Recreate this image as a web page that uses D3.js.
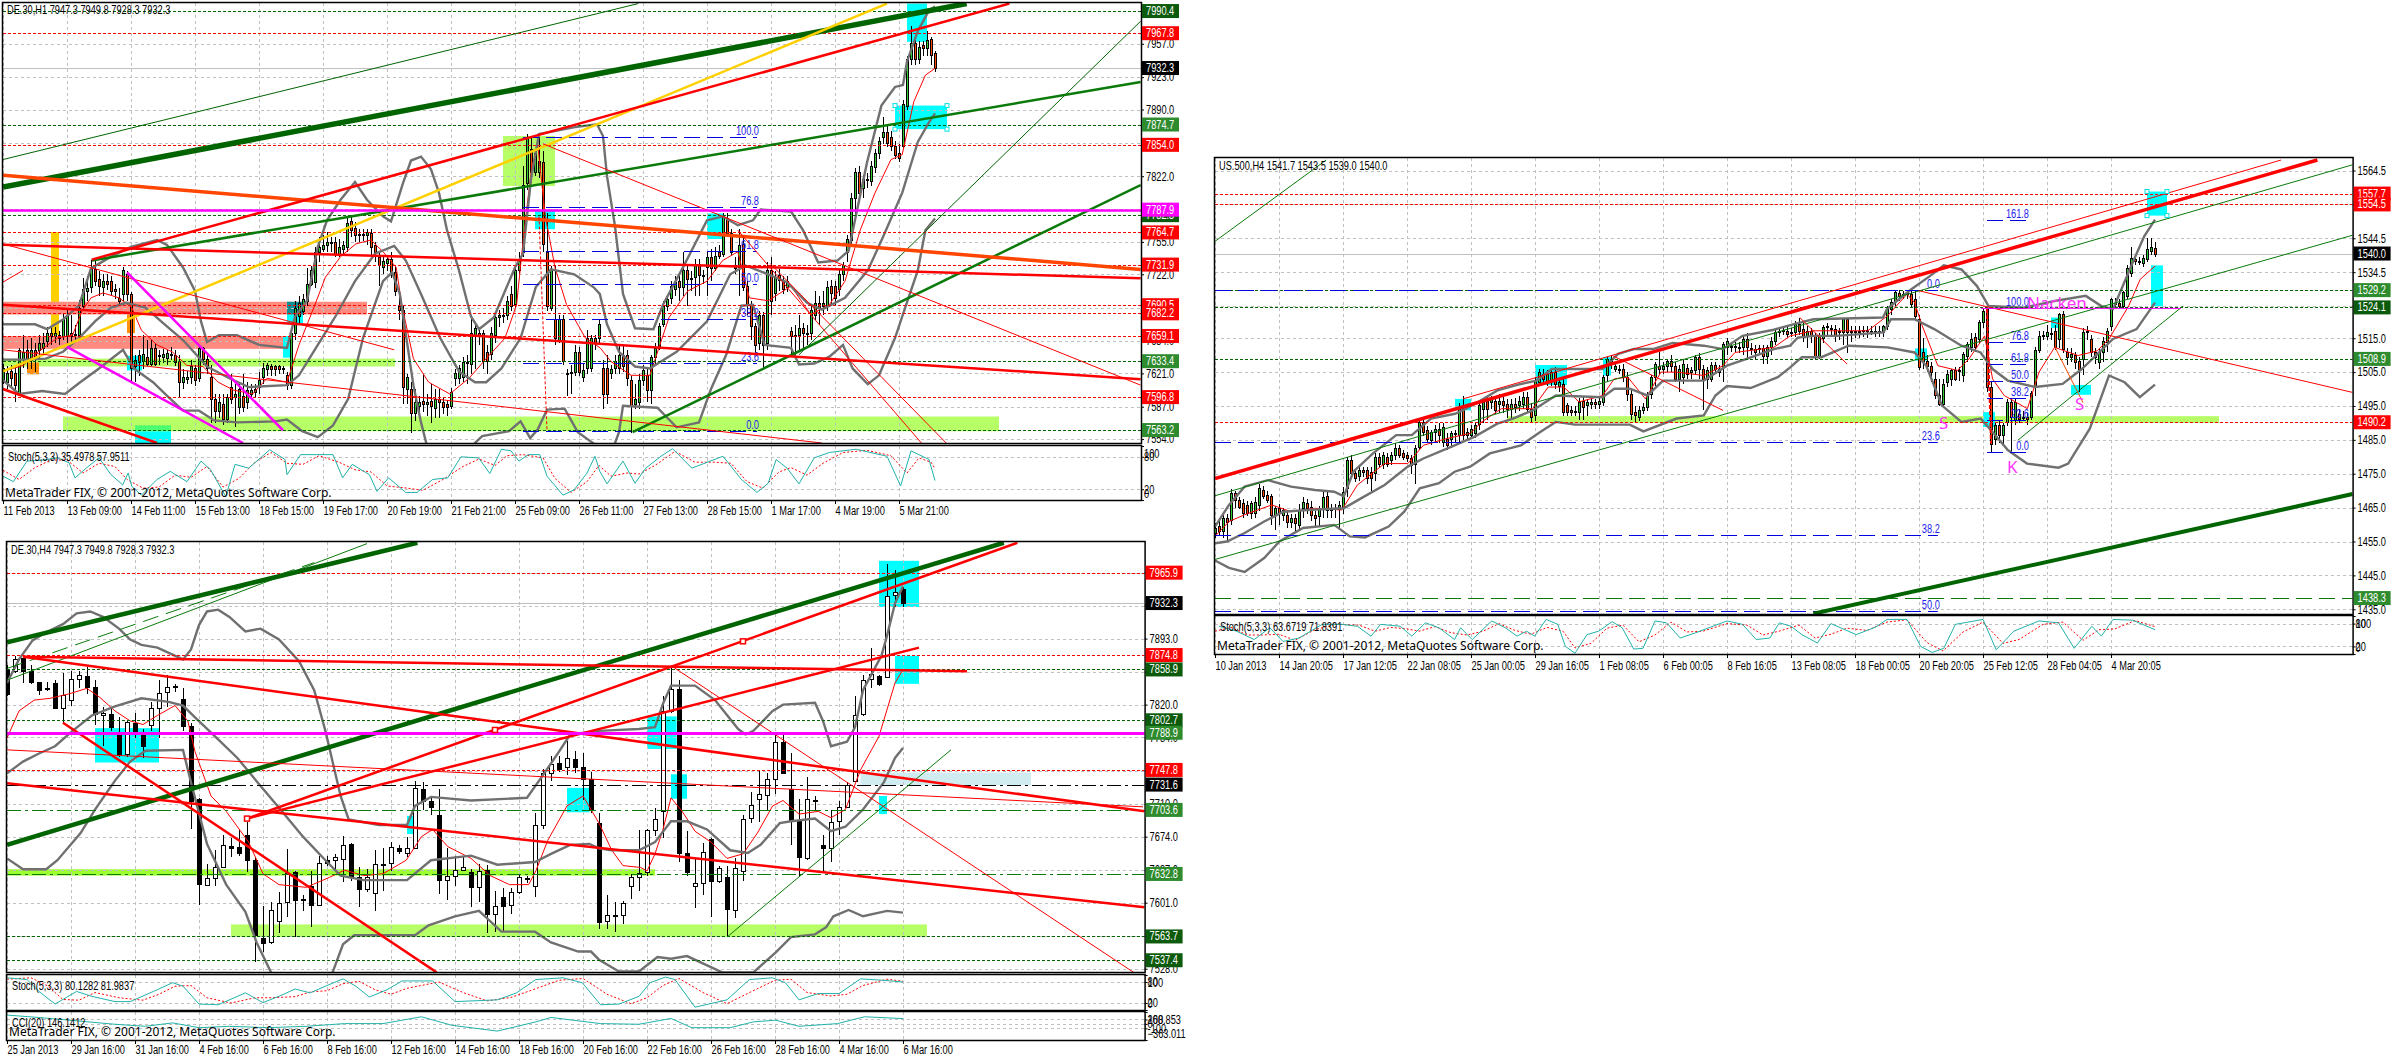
<!DOCTYPE html>
<html>

<head>
    <meta charset="utf-8">
    <style type="text/css">
        html, body { margin: 0; padding: 0; background: #fff; }
        svg { display: block; }
        text { font-family: "Liberation Sans", sans-serif; font-size: 12px; fill: #000; }
        .tick text { font-family: "Liberation Sans", sans-serif; font-size: 12px; }
    </style>
</head>

<body>
    <div id="canvas"></div>

    <script type="text/javascript" src="https://cdnjs.cloudflare.com/ajax/libs/d3/7.8.5/d3.min.js"></script>
    <script type="text/javascript">
        // ---- DE.30 H1 ----
        var titleH1 = "DE.30,H1  7947.3 7949.8 7928.3 7932.3";
        var stochTitleH1 = "Stoch(5,3,3) 35.4978 57.9511";
        var timeLabelsH1 = ["11 Feb 2013", "13 Feb 09:00", "14 Feb 11:00", "15 Feb 13:00", "18 Feb 15:00", "19 Feb 17:00", "20 Feb 19:00", "21 Feb 21:00", "25 Feb 09:00", "26 Feb 11:00", "27 Feb 13:00", "28 Feb 15:00", "1 Mar 17:00", "4 Mar 19:00", "5 Mar 21:00"];
        var ticksH1 = [7957, 7923, 7890, 7856, 7822, 7789, 7755, 7722, 7688, 7654, 7621, 7587, 7554];
        var candlesH1 = [
            [7612,7631,7610,7626],[7612,7628,7605,7621],[7623,7630,7608,7616],[7621,7628,7592,7609],[7600,7647,7598,7645],[7636,7660,7626,7643],[7645,7655,7625,7636],[7635,7657,7625,7645],[7645,7652,7622,7636],[7645,7660,7636,7652],
            [7647,7662,7640,7652],[7654,7668,7648,7662],[7662,7668,7650,7659],[7659,7668,7652,7662],[7660,7664,7650,7657],[7659,7682,7655,7676],[7659,7688,7652,7681],[7662,7680,7652,7659],[7660,7670,7655,7661],[7660,7696,7655,7688],
            [7690,7718,7685,7707],[7705,7720,7695,7708],[7709,7737,7703,7727],[7727,7736,7710,7715],[7717,7725,7700,7710],[7709,7722,7700,7715],[7715,7722,7706,7712],[7715,7720,7700,7705],[7707,7712,7697,7705],[7698,7708,7690,7695],
            [7702,7729,7695,7726],[7722,7725,7695,7702],[7702,7704,7612,7626],[7628,7640,7612,7635],[7640,7645,7618,7633],[7634,7660,7625,7641],[7638,7655,7628,7631],[7631,7655,7628,7647],[7647,7652,7628,7631],[7640,7645,7630,7640],
            [7638,7646,7632,7641],[7637,7645,7630,7642],[7641,7648,7635,7640],[7640,7645,7628,7633],[7634,7640,7597,7612],[7612,7625,7605,7617],[7615,7623,7610,7617],[7617,7635,7610,7628],[7626,7630,7608,7614],[7616,7650,7612,7647],
            [7647,7648,7630,7636],[7636,7642,7620,7626],[7617,7630,7570,7595],[7595,7600,7570,7583],[7583,7600,7575,7592],[7590,7600,7568,7574],[7574,7600,7570,7597],[7607,7620,7590,7595],[7597,7610,7566,7600],[7587,7612,7580,7605],
            [7598,7620,7582,7587],[7592,7612,7585,7604],[7600,7610,7597,7604],[7602,7610,7597,7605],[7607,7622,7600,7614],[7617,7632,7610,7626],[7625,7632,7618,7630],[7629,7631,7618,7625],[7628,7630,7618,7625],[7628,7630,7620,7625],
            [7626,7628,7620,7625],[7619,7622,7604,7609],[7609,7665,7605,7662],[7662,7695,7655,7688],[7679,7700,7672,7693],[7685,7702,7680,7697],[7695,7728,7690,7712],[7712,7730,7710,7726],[7714,7750,7708,7745],[7745,7760,7735,7750],
            [7748,7762,7745,7752],[7752,7765,7745,7755],[7755,7760,7745,7755],[7755,7760,7740,7743],[7743,7758,7740,7750],[7748,7756,7742,7752],[7750,7780,7745,7774],[7776,7782,7760,7767],[7769,7775,7755,7762],[7763,7768,7755,7762],
            [7763,7768,7756,7763],[7762,7768,7752,7765],[7764,7768,7742,7750],[7752,7755,7735,7745],[7740,7745,7710,7731],[7729,7740,7722,7736],[7734,7742,7725,7738],[7738,7745,7718,7724],[7724,7730,7700,7705],[7690,7700,7675,7686],
            [7686,7690,7590,7607],[7605,7620,7590,7617],[7605,7612,7560,7581],[7581,7605,7572,7592],[7588,7598,7575,7592],[7593,7620,7582,7590],[7590,7600,7578,7592],[7593,7610,7570,7588],[7586,7605,7575,7595],[7595,7605,7575,7592],
            [7592,7597,7580,7587],[7590,7594,7578,7587],[7588,7606,7585,7602],[7616,7625,7608,7621],[7616,7630,7610,7626],[7617,7638,7612,7633],[7632,7640,7610,7633],[7631,7680,7620,7662],[7659,7672,7625,7667],[7662,7668,7650,7659],
            [7662,7665,7625,7634],[7643,7650,7620,7634],[7641,7668,7635,7662],[7660,7682,7652,7678],[7678,7686,7668,7681],[7680,7688,7672,7680],[7680,7700,7675,7695],[7702,7710,7685,7690],[7692,7730,7688,7726],[7726,7745,7722,7736],
            [7745,7832,7740,7813],[7815,7865,7808,7862],[7850,7863,7815,7826],[7826,7850,7822,7846],[7826,7862,7820,7838],[7836,7848,7745,7753],[7745,7785,7685,7690],[7688,7730,7685,7726],[7676,7730,7650,7657],[7655,7680,7652,7676],
            [7676,7680,7630,7634],[7621,7625,7598,7620],[7622,7630,7600,7622],[7622,7650,7618,7643],[7643,7648,7618,7622],[7617,7632,7612,7624],[7626,7665,7620,7657],[7626,7660,7622,7657],[7657,7660,7645,7652],[7657,7676,7652,7671],
            [7626,7635,7585,7600],[7626,7640,7590,7600],[7621,7630,7615,7625],[7626,7640,7620,7634],[7626,7650,7620,7640],[7640,7650,7622,7628],[7640,7645,7608,7616],[7614,7618,7560,7588],[7590,7610,7585,7595],[7592,7620,7585,7614],
            [7614,7630,7608,7624],[7619,7625,7592,7604],[7604,7640,7590,7638],[7638,7652,7630,7647],[7647,7672,7645,7669],[7671,7695,7668,7690],[7690,7700,7685,7697],[7698,7715,7692,7710],[7707,7720,7700,7714],[7715,7722,7695,7709],
            [7709,7745,7700,7726],[7726,7730,7690,7717],[7718,7725,7705,7717],[7719,7738,7700,7733],[7733,7738,7700,7721],[7720,7726,7712,7721],[7729,7746,7700,7740],[7740,7748,7715,7728],[7728,7750,7725,7741],[7745,7752,7738,7741],
            [7743,7785,7740,7781],[7779,7785,7760,7764],[7764,7768,7742,7745],[7731,7740,7722,7728],[7729,7768,7700,7752],[7753,7760,7705,7709],[7710,7715,7680,7691],[7691,7695,7655,7669],[7669,7672,7640,7650],[7652,7685,7645,7681],
            [7681,7684,7625,7650],[7652,7735,7645,7726],[7726,7740,7680,7695],[7703,7725,7695,7719],[7721,7727,7705,7716],[7715,7720,7702,7707],[7709,7720,7704,7715],[7664,7668,7640,7659],[7660,7670,7640,7660],[7660,7680,7645,7667],
            [7667,7672,7645,7662],[7662,7670,7650,7662],[7662,7690,7655,7686],[7680,7705,7675,7693],[7693,7700,7670,7688],[7690,7705,7680,7693],[7690,7715,7685,7709],[7710,7716,7690,7703],[7710,7715,7690,7698],[7707,7726,7700,7722],
            [7722,7735,7715,7731],[7745,7762,7735,7758],[7757,7805,7752,7800],[7800,7830,7780,7826],[7826,7832,7795,7805],[7810,7823,7800,7819],[7818,7825,7810,7819],[7817,7838,7812,7832],[7831,7850,7825,7846],[7846,7862,7840,7858],
            [7862,7882,7855,7867],[7867,7875,7852,7856],[7862,7868,7848,7853],[7853,7858,7840,7844],[7846,7855,7837,7841],[7853,7900,7850,7896],[7894,7945,7890,7941],[7941,7975,7935,7958],[7958,7965,7935,7941],[7941,7960,7936,7954],
            [7956,7960,7945,7953],[7953,7970,7945,7961],[7962,7964,7935,7946],[7947.3,7949.8,7928.3,7932.3]
        ];
        var bbUpperH1 = [[0,7671],[8,7671],[11,7666],[15,7676],[19,7690],[22,7728],[27,7740],[32,7750],[38.5,7757],[41,7752],[45,7729],[48,7705],[49.5,7674],[51,7653],[54,7660],[58.5,7660],[64,7650],[71,7647],[73,7679],[76,7695],[78.7,7750],[81,7777],[84.4,7798],[88,7816],[91,7798],[95,7781],[97,7776],[100,7815],[102,7838],[104.5,7842],[107,7829],[109,7805],[111,7767],[114,7726],[117,7679],[119,7666],[122.7,7678],[125.5,7705],[128,7729],[130,7743],[132,7819],[134,7865],[143,7872],[148.5,7875],[150,7863],[151,7822],[153,7771],[155,7702],[158,7667],[162.6,7666],[165,7691],[170,7729],[176,7777],[180,7781],[183.7,7772],[187.5,7777],[189.4,7788],[197,7786],[200,7767],[203.8,7734],[208.6,7736],[211.4,7746],[216,7836],[219.6,7894],[223,7913],[225,7915],[226,7939],[228.7,7970],[231.5,7991],[233,7995]];
        var bbMidH1 = [[0,7635],[5,7635],[10.7,7636],[15,7643],[19,7657],[23,7674],[27,7688],[30.8,7693],[35.6,7688],[40.4,7671],[45,7655],[51,7628],[56.6,7616],[61.4,7607],[71,7609],[74,7619],[78.7,7650],[83.4,7681],[88,7715],[93,7743],[97.8,7751],[100.7,7736],[104.5,7702],[109.3,7657],[114,7623],[118,7612],[120.8,7612],[124.6,7626],[129.4,7657],[133.2,7709],[137,7727],[142.8,7722],[147.6,7709],[149.2,7702],[151,7671],[154,7643],[158,7628],[161.7,7626],[168.4,7643],[176,7674],[181.8,7722],[185.6,7731],[191.3,7722],[196,7714],[201,7693],[204.7,7686],[210.5,7698],[216.2,7726],[220,7760],[224.8,7805],[228.7,7857],[231.5,7877],[233,7886]];
        var bbLowerH1 = [[0,7614],[4,7600],[9.8,7603],[15.5,7600],[19.3,7612],[24,7626],[30,7645],[32.7,7626],[37.5,7612],[41.3,7597],[45,7583],[49,7583],[52.8,7573],[58.6,7571],[68,7572],[71,7574],[74.8,7562],[78.7,7556],[82.5,7568],[86.3,7595],[90,7657],[95,7715],[97.3,7724],[99.2,7702],[102.6,7609],[104.5,7571],[106,7547],[107.4,7530],[116,7530],[118,7550],[119.8,7557],[126.5,7562],[129.4,7572],[131.8,7555],[133.7,7564],[136,7584],[140.4,7585],[143.7,7561],[148.5,7547],[151,7530],[153,7550],[154,7561],[155,7588],[163.6,7586],[168.4,7566],[174,7571],[177,7605],[180.8,7640],[184.6,7690],[187.5,7691],[190.4,7650],[197,7647],[199,7630],[202.8,7631],[206.6,7638],[210,7650],[212.4,7626],[216.2,7610],[219,7619],[223,7657],[225.8,7691],[228.7,7726],[230.6,7767],[233,7779]];
        var maH1 = [[0,7623],[5,7629],[8.8,7643],[13.6,7657],[17.4,7660],[19.8,7685],[22,7698],[25,7703],[29,7698],[32.2,7688],[34.6,7665],[38.5,7650],[42.3,7643],[46,7629],[50,7628],[53.8,7612],[57.6,7604],[62.4,7600],[66,7616],[71,7612],[74,7650],[77.7,7688],[80.6,7719],[84.4,7740],[88.2,7753],[92,7757],[95,7745],[98.3,7729],[99.7,7691],[102.6,7636],[106.4,7612],[111.7,7600],[116.5,7616],[120.8,7636],[125.5,7657],[128.4,7691],[130.3,7767],[132.2,7832],[133.7,7853],[135.6,7781],[138,7729],[140.9,7691],[145.6,7657],[149.3,7647],[152,7633],[157,7619],[161.7,7619],[166.5,7678],[171.2,7705],[176,7715],[179.9,7736],[183.7,7745],[186.6,7698],[191.3,7695],[197,7710],[201.9,7681],[206.6,7691],[210.5,7715],[214.3,7767],[218,7805],[222,7839],[224.8,7844],[227.7,7898],[230.6,7925],[233,7932]];
        var stochH1 = [[0,44],[2.6,34],[6,72],[9.8,74],[13.6,78],[16.5,69],[18,41],[20.8,59],[24,78],[27,47],[29.9,28],[31.3,50],[32.2,25],[34.6,9],[38.5,38],[41.8,53],[46,34],[49.5,72],[51.9,56],[55.7,6],[58,66],[61.4,59],[66.7,93],[70.5,75],[71,47],[74.4,84],[82.5,84],[84.9,41],[87.3,66],[91.6,47],[93.5,16],[96.4,41],[100.7,14],[103.5,14],[107.4,38],[111.2,41],[114.5,80],[118.9,78],[121.7,49],[124.6,94],[127,91],[129,72],[131.3,84],[134.2,84],[136,44],[140,9],[142.8,19],[146,50],[148,81],[149.2,53],[151,30],[155,72],[158,31],[160.7,59],[164.5,81],[167.4,95],[172.2,59],[180,81],[184.6,38],[188.5,14],[191.3,31],[193.3,75],[196,59],[199,30],[202.8,78],[206.6,88],[213.3,94],[221,81],[224.4,26],[227,91],[231.5,75],[233,36]];
        var signalH1 = [[0,55],[4,38],[8,60],[12,74],[16,74],[20,50],[24,68],[28,62],[31,38],[35,22],[39,24],[43,46],[47,42],[51,62],[55,24],[59,40],[63,70],[67,88],[71,68],[75,66],[79,82],[84,70],[88,56],[92,52],[96,26],[101,22],[105,18],[110,38],[115,62],[119,76],[123,64],[126,82],[130,84],[135,78],[138,40],[142,14],[146,34],[149,64],[152,44],[156,50],[159,48],[163,64],[168,90],[173,70],[178,70],[182,68],[186,34],[190,22],[194,52],[197,60],[201,46],[205,68],[210,88],[216,92],[222,82],[226,50],[229,78],[232,70],[233,58]];
        var redLevelsH1 = [7967.8, 7854.0, 7764.7, 7731.9, 7690.5, 7682.2, 7659.1, 7596.8];
        var darkLevelsH1 = [7990.4, 7782.3];
        var midLevelsH1 = [7874.7, 7633.4, 7563.2];
        var magentaH1 = 7787.9, bidH1 = 7932.3;
        var fibLabelsH1 = ["100.0", "76.8", "61.8", "50.0", "38.2", "23.6", "0.0"];
        var fibPricesH1 = [7862, 7791, 7746, 7712, 7676, 7632, 7562];
        var fibSpanH1 = [130, 188.5];
        var cyanH1 = [[33,42,7562,7550],[31,34.8,7639,7624],[71,75,7681,7672],[70,72,7659,7637],[133,138,7787,7768],[176,180,7784,7758],[226,231,7998,7959],[223,236,7894,7870]];
        var limeH1 = [[0,98,7636,7628],[15,249,7577,7562],[125,138,7863,7812]];
        var pinkH1 = [[0,91,7694,7681],[0,70,7659,7646]];
        var goldH1 = [[12,14,7765,7660]];
        var orangeH1 = [[6,9,7632,7620],[31,33,7681,7662]];
        var tealH1 = [[71,75,7694,7681]];
        var springH1 = [[33,42,7568,7562]];
        var handlesH1 = [[223,236,7894,7870]];
        var thickGreenH1 = [[0,7811,240.9,7998]];
        var greenH1 = [[22.2,7736,284.4,7918],[157.4,7561,284.4,7813]];
        var thinGreenH1 = [[0,7839,158.8,7998],[199,7640,284.4,7980]];
        var orangeRedH1 = [[0,7823,284.4,7727]];
        var redH1 = [[22.2,7737,251.6,7998],[0,7752,284.4,7718],[0,7691,284.4,7615],[0,7605,38.5,7550]];
        var thinRedH1 = [[0,7753,97.8,7645],[0,7645,204.7,7550],[0,7714,5,7726],[135,7855,284.4,7609],[183.7,7767,229.6,7550],[191.8,7733,235.8,7550]];
        var dashRedH1 = [[134,7781,136,7562]];
        var yellowH1 = [[0,7623,221,7998]];
        var purpleH1 = [[31,7724,70,7563],[16,7648,60,7550]];

        // ---- DE.30 H4 ----
        var titleH4 = "DE.30,H4  7947.3 7949.8 7928.3 7932.3";
        var stochTitleH4 = "Stoch(5,3,3) 80.1282 81.9837";
        var cciTitleH4 = "CCI(20) 146.1412";
        var timeLabelsH4 = ["25 Jan 2013", "29 Jan 16:00", "31 Jan 16:00", "4 Feb 16:00", "6 Feb 16:00", "8 Feb 16:00", "12 Feb 16:00", "14 Feb 16:00", "18 Feb 16:00", "20 Feb 16:00", "22 Feb 16:00", "26 Feb 16:00", "28 Feb 16:00", "4 Mar 16:00", "6 Mar 16:00"];
        var ticksH4 = [7966, 7929.5, 7893, 7856.5, 7820, 7784, 7747, 7710, 7674, 7637, 7601, 7564, 7528];
        var candlesH4 = [
            [7859,7864,7830,7832],[7857,7874,7855,7870],[7872,7874,7844,7857],[7857,7864,7843,7845],[7845,7845,7831,7836],[7838,7845,7835,7837],[7844,7847,7815,7816],[7816,7855,7800,7831],[7825,7857,7819,7848],[7848,7857,7838,7853],
            [7852,7862,7832,7840],[7840,7847,7798,7810],[7809,7817,7774,7811],[7810,7817,7791,7795],[7786,7806,7762,7764],[7765,7803,7762,7801],[7800,7811,7783,7791],[7788,7793,7761,7774],[7798,7823,7791,7816],[7816,7847,7783,7833],
            [7834,7853,7817,7840],[7841,7843,7834,7839],[7826,7838,7791,7796],[7796,7800,7683,7714],[7716,7717,7599,7622],[7621,7644,7619,7628],[7628,7659,7619,7641],[7641,7676,7640,7665],[7664,7672,7651,7662],[7663,7681,7653,7656],
            [7676,7690,7635,7648],[7648,7651,7536,7565],[7562,7597,7547,7557],[7558,7602,7555,7593],[7581,7613,7568,7601],[7602,7660,7585,7634],[7635,7636,7563,7604],[7605,7610,7592,7605],[7619,7636,7574,7599],[7599,7653,7599,7645],
            [7648,7653,7642,7645],[7648,7655,7636,7651],[7649,7675,7624,7665],[7666,7667,7625,7629],[7629,7640,7596,7616],[7616,7638,7613,7629],[7612,7659,7592,7644],[7644,7661,7614,7644],[7645,7668,7636,7663],[7662,7665,7655,7658],
            [7656,7674,7651,7661],[7662,7736,7661,7728],[7727,7734,7704,7714],[7714,7717,7698,7707],[7698,7727,7611,7626],[7626,7661,7604,7630],[7631,7653,7619,7637],[7637,7651,7636,7641],[7635,7638,7596,7618],[7618,7644,7602,7636],
            [7637,7643,7568,7588],[7588,7614,7569,7597],[7607,7617,7570,7597],[7598,7617,7589,7613],[7613,7633,7611,7629],[7628,7631,7623,7628],[7620,7700,7607,7687],[7687,7749,7683,7744],[7744,7763,7736,7754],[7755,7763,7745,7749],
            [7751,7780,7742,7761],[7760,7769,7744,7751],[7751,7767,7715,7738],[7738,7746,7700,7705],[7689,7700,7572,7580],[7581,7610,7572,7587],[7587,7602,7569,7587],[7587,7603,7578,7601],[7619,7633,7605,7629],[7629,7681,7614,7634],
            [7635,7682,7631,7681],[7681,7706,7675,7694],[7702,7830,7672,7813],[7813,7860,7811,7837],[7837,7847,7646,7656],[7656,7680,7631,7635],[7620,7650,7595,7623],[7623,7667,7610,7657],[7671,7672,7585,7625],[7625,7642,7623,7639],
            [7629,7642,7563,7594],[7593,7650,7584,7639],[7636,7698,7625,7694],[7695,7723,7689,7709],[7716,7747,7690,7721],[7720,7744,7702,7738],[7738,7787,7721,7779],[7779,7787,7743,7744],[7727,7766,7665,7692],[7691,7716,7631,7651],
            [7650,7740,7648,7716],[7715,7719,7702,7715],[7665,7676,7636,7661],[7661,7704,7646,7690],[7691,7714,7676,7707],[7707,7734,7706,7731],[7736,7830,7735,7809],[7810,7853,7807,7847],[7848,7883,7838,7854],[7852,7853,7841,7843],
            [7851,7975,7850,7940],[7941,7969,7928,7945],[7947.3,7949.8,7928.3,7932.3]
        ];
        var bbUpperH4 = [[0,7844],[1.5,7870],[3.2,7891],[4.9,7900],[7,7909],[8.7,7921],[10.4,7923],[12,7917],[14,7904],[15.4,7892],[16.8,7886],[18.8,7883],[22,7870],[23,7881],[24,7908],[25,7923],[26.4,7925],[27.8,7917],[29.8,7901],[31.7,7904],[34,7892],[36.5,7868],[38.4,7836],[39.8,7791],[40.8,7753],[41.7,7719],[42.7,7693],[46.5,7687],[50,7687],[51,7708],[53,7718],[58,7714],[65,7717],[67,7742],[69,7768],[70.4,7787],[74,7791],[79,7793],[81,7795],[82,7821],[83,7841],[86,7841],[88.5,7825],[91.4,7793],[92.3,7787],[93.3,7791],[95.7,7813],[97,7820],[101,7822],[102,7802],[103,7774],[105,7779],[106,7795],[107,7836],[109.3,7874],[110,7896],[111,7932],[112,7951]];
        var bbMidH4 = [[0,7744],[2,7757],[4,7766],[6,7774],[8.2,7791],[10.6,7808],[13.5,7818],[16.8,7827],[20.2,7823],[22,7819],[23.5,7806],[26,7785],[28.8,7761],[31.7,7730],[34,7706],[37,7674],[39.8,7648],[41.7,7631],[44.6,7626],[50,7626],[53,7648],[58,7653],[61.3,7643],[66,7646],[68,7655],[70.4,7665],[72.8,7666],[74,7661],[75.6,7659],[79,7659],[81,7668],[83,7691],[85,7691],[87.5,7682],[90.4,7659],[92.6,7656],[94.2,7665],[96.6,7689],[98,7691],[101,7694],[103,7680],[104.8,7685],[107,7704],[109.6,7734],[111,7761],[112,7772]];
        var bbLowerH4 = [[0,7650],[2,7638],[4.9,7638],[6.3,7648],[9.2,7678],[11,7704],[13.5,7736],[15.4,7757],[17.3,7769],[22,7770],[23,7734],[25,7666],[27.4,7621],[29.8,7591],[31.2,7557],[33,7524],[34,7508],[39.8,7508],[40.7,7524],[42,7555],[43.4,7565],[51,7565],[52.7,7576],[56,7586],[59,7592],[61.8,7569],[66,7569],[68,7557],[71.4,7547],[73,7547],[74,7538],[76.5,7525],[79,7525],[81.3,7541],[83,7539],[85,7542],[89.4,7524],[93.3,7524],[96.1,7546],[98,7563],[101,7566],[102.4,7574],[103.3,7586],[105.2,7593],[107,7586],[110,7592],[112,7590]];
        var maH4 = [[0,7783],[1.5,7813],[3.4,7825],[5.4,7827],[7.8,7832],[10,7838],[11.6,7828],[13.5,7813],[15.4,7802],[17,7798],[18.8,7808],[21,7819],[22.6,7802],[23.5,7768],[25.5,7719],[27.4,7702],[30.2,7668],[32,7633],[34,7621],[37.4,7618],[40.3,7629],[42.2,7637],[44.6,7631],[47,7633],[49.9,7648],[51.8,7674],[53.2,7682],[55.1,7663],[58,7650],[60.4,7631],[62.8,7621],[65.2,7621],[66.1,7636],[67.6,7670],[70,7708],[72,7719],[74,7689],[75.6,7659],[77,7642],[79.2,7640],[80,7636],[81,7655],[82,7682],[83,7717],[84.4,7702],[86,7680],[88,7668],[90,7650],[92,7655],[93.8,7678],[95.7,7708],[97,7714],[99,7699],[101.4,7702],[103,7695],[104.8,7704],[106.7,7748],[109,7785],[111,7844],[112,7859]];
        var stochH4 = [[0,92],[2.5,87],[4,53],[6,17],[8.7,53],[10.6,39],[13.5,24],[15.4,24],[18.3,53],[20.7,78],[22,68],[24,17],[26.4,15],[29.8,49],[32,21],[34.5,44],[36,60],[37.9,49],[39.8,68],[42,89],[43.6,68],[45.3,37],[47.5,58],[49.4,83],[53.2,83],[56,24],[61.3,29],[63.7,49],[66.1,87],[69.5,92],[71.9,78],[74.2,15],[76.5,17],[79,39],[80.4,78],[82.3,94],[83.5,87],[86,8],[90,29],[92.8,87],[95.7,92],[97.3,78],[99,29],[101.4,47],[104,47],[106.7,89],[109.5,85],[112,80]];
        var signalH4 = [[0,88],[3,92],[5,70],[7,30],[9,28],[11,50],[14,35],[17,28],[19,45],[21,68],[23,70],[25,35],[28,20],[31,35],[33,35],[36,38],[38,52],[40,55],[42,75],[44,82],[46,58],[48,45],[50,62],[54,80],[57,50],[60,26],[63,36],[66,60],[69,85],[72,90],[75,45],[78,18],[80,35],[82,70],[84,90],[87,50],[90,18],[93,52],[96,85],[98,88],[100,50],[103,40],[105,45],[107,70],[110,88],[112,82]];
        var cciH4 = [[0,200],[3.9,146],[8.7,69],[13.5,-8],[17.3,-54],[20.7,23],[24,-85],[27.8,-54],[32.6,-85],[37.4,-54],[42.2,7],[47,7],[51.8,161],[55.6,-31],[61.3,-162],[66.1,46],[68,146],[74.2,7],[79,-8],[83,123],[85.6,-85],[90.4,-85],[93.3,46],[96.1,84],[99,-54],[103.8,7],[107.2,161],[112,120]];
        var redLevelsH4 = [7965.9, 7874.8, 7747.8];
        var darkLevelsH4 = [7858.9, 7802.7, 7563.7, 7537.4];
        var midLevelsH4 = [7703.6, 7632.8];
        var blackLevelH4 = 7731.6, magentaH4 = 7788.9, bidH4 = 7932.3;
        var cyanH4 = [[11,19,7794,7756],[50,51,7697,7677],[70,72.8,7728,7701],[80,83.7,7807,7771],[83,85,7743,7716],[109,114,7979,7928],[111,114,7874,7843],[109,110,7719,7699]];
        var brightH4 = [[0,81,7638,7631]];
        var limeH4 = [[28,115,7577,7563]];
        var paleH4 = [[106.7,128,7745,7731]];
        var thickGreenH4 = [[0,7889,51.3,7999],[0,7665,124.6,7999]];
        var thinGreenH4 = [[0,7847,45,7998],[90,7563,118,7770]];
        var dashGreenH4 = [[0,7860,38.4,7977]];
        var redH4 = [[2,7873,120,7857],[2,7873,142.2,7702],[0,7733,142.2,7596],[7,7800,53.7,7524],[30,7694,126.3,7999],[30,7694,114,7883]];
        var thinRedH4 = [[0,7770,142,7707],[83.2,7862,141,7523]];
        var markersH4 = [[30,7694],[61,7792],[92,7890]];

        // ---- US.500 H4 ----
        var titleUS = "US.500,H4  1541.7 1543.5 1539.0 1540.0";
        var stochTitleUS = "Stoch(5,3,3) 63.6719 71.8391";
        var timeLabelsUS = ["10 Jan 2013", "14 Jan 20:05", "17 Jan 12:05", "22 Jan 08:05", "25 Jan 00:05", "29 Jan 16:05", "1 Feb 08:05", "6 Feb 00:05", "8 Feb 16:05", "13 Feb 08:05", "18 Feb 00:05", "20 Feb 20:05", "25 Feb 12:05", "28 Feb 04:05", "4 Mar 20:05"];
        var ticksUS = [1564.5, 1554.5, 1544.5, 1534.5, 1524.5, 1515, 1505, 1495, 1485, 1475, 1465, 1455, 1445, 1435];
        var candlesUS = [
            [1457.5,1460.5,1456,1459],[1459.5,1461,1456.5,1458],[1458,1463,1456,1461.9],[1461.9,1463,1455,1460.9],[1461.4,1470.5,1460,1469.2],[1469.2,1470,1465,1467.3],[1467.3,1468,1464.5,1465.3],[1466.3,1467.5,1462,1463.4],[1465.8,1467,1462.5,1463.4],[1463.4,1467,1461.5,1466.3],
            [1463.4,1468,1462,1466.8],[1465.8,1472,1464,1470.7],[1470.2,1471.5,1467.5,1468.3],[1468.7,1470,1466.5,1467.3],[1468.3,1469,1460,1462.9],[1462.9,1465.5,1458.5,1464.8],[1464.8,1466,1460,1463.4],[1462.9,1465,1461,1464.3],[1462.9,1464,1459,1460.9],[1460.9,1463,1459,1461.9],
            [1461.9,1463,1458,1460.4],[1459.9,1466,1458,1464.3],[1464.8,1468,1462,1466.8],[1466.3,1467.5,1463,1464.8],[1465.3,1467,1461,1462.9],[1462.9,1464,1459.5,1461.9],[1462.4,1465.5,1459.5,1464.8],[1464.6,1470,1462,1468],[1468.3,1470,1462,1464.3],[1464.8,1466,1462,1464.3],
            [1464.6,1466,1462,1464.8],[1464.6,1467,1459,1465.8],[1465.3,1471,1463,1469.7],[1470.7,1480,1468,1479],[1479,1480.5,1474,1475.1],[1475.1,1476,1472.5,1473.8],[1474.2,1477.5,1473,1476.1],[1476.1,1477,1474,1475.6],[1476.1,1477,1472,1473.6],[1475.6,1477,1470,1473.6],
            [1475.1,1481,1473,1480],[1480,1481,1477,1478],[1478,1481.5,1476.5,1480.5],[1480,1481,1477,1478],[1479,1481.5,1477.5,1480.5],[1480.5,1484,1479,1482.5],[1482.5,1483.5,1479.5,1480.5],[1481,1482,1479,1480],[1480.5,1481.5,1478.5,1479.5],[1479.5,1480.5,1475,1477.6],
            [1478,1483.5,1472,1482.5],[1483,1491.5,1482,1490.3],[1490.3,1491.5,1486,1487.3],[1487.8,1489,1484.5,1485.4],[1484.9,1488,1483.5,1487.3],[1487.3,1489.5,1484,1488.3],[1488.3,1490,1484,1486.4],[1484.4,1490,1483,1488.8],[1485.4,1487,1482,1483.4],[1485.4,1487.5,1482.5,1486.9],
            [1486.8,1488,1484,1486.9],[1486.4,1496,1484.5,1494.7],[1494.2,1498,1485,1486.4],[1486.4,1488.5,1485,1487.3],[1486.4,1489.5,1485.5,1488.3],[1486.9,1490,1485.5,1489.3],[1489.8,1496,1488,1495.2],[1494.2,1497.5,1490,1496.2],[1496.6,1498,1491,1494.2],[1496.2,1498,1494,1497.1],
            [1496.6,1498,1492.5,1493.7],[1495.7,1498.5,1493,1496.6],[1496.6,1498,1493,1495.2],[1495.7,1497,1491.5,1494.2],[1494.2,1497,1491.5,1495.7],[1495.7,1497.5,1493,1494.7],[1495.2,1498,1493.5,1496.6],[1495.7,1499,1494,1497.6],[1497.6,1499,1493,1494.2],[1494.2,1496,1490.3,1491.7],
            [1492.2,1503.5,1490.5,1502.5],[1502,1506,1501,1505],[1504.5,1506,1502,1503],[1502.5,1505.5,1501,1504.5],[1502.5,1506,1501,1505],[1505,1506.5,1500,1501.5],[1501,1503,1499,1502],[1501.5,1503,1492,1493.2],[1495.2,1496,1492,1493.2],[1493.7,1495,1492,1493.2],
            [1493.2,1495,1492,1493.4],[1493.2,1497.5,1491,1496.2],[1496.6,1498,1491,1494.7],[1495.2,1497,1492,1496.2],[1495.7,1497,1494,1496.2],[1496.2,1497,1494,1495.7],[1495.7,1498,1494,1496.6],[1496.2,1504,1495,1503.5],[1504,1509.5,1502,1508.9],[1508.9,1510,1506,1507.9],
            [1505.9,1508,1505,1506.9],[1505.8,1507,1504.5,1505.9],[1505.9,1507.5,1502,1503.5],[1503.5,1505,1496.5,1498.6],[1498.6,1500,1491,1492.7],[1493.2,1495,1490,1492.2],[1491.7,1495,1490.5,1493.7],[1493.7,1496,1492.5,1494.7],[1494.7,1499,1493.5,1498.1],[1498.6,1504,1497,1503.5],
            [1503.5,1508,1501,1507.4],[1506.9,1511,1504,1505.9],[1505.9,1508,1504.5,1506.9],[1506.9,1509,1505,1508.4],[1508.4,1510,1505,1506.9],[1506.9,1508,1502,1503],[1503,1507,1499,1505.9],[1503.5,1509,1501.5,1507.4],[1506.2,1507.5,1503,1504.5],[1505,1506.5,1503,1505.5],
            [1505.5,1510,1504,1509.4],[1509.4,1510.5,1503,1505.9],[1505.9,1507,1493.7,1503],[1503,1506.5,1500,1505.5],[1503,1508,1502,1507.1],[1507.1,1508,1504.5,1505.9],[1505.9,1507,1503.5,1505],[1506.4,1514,1502,1513.3],[1512.3,1515,1510,1514.1],[1512.6,1514,1511,1512.8],
            [1512.8,1514,1511,1512.3],[1512.3,1514,1510.5,1512.5],[1512.3,1516,1510,1514.8],[1514.8,1516.5,1509,1512.3],[1512.2,1513.5,1510,1512],[1511.8,1513,1508.5,1510.8],[1511.8,1513,1510,1512],[1512,1513,1507.5,1509.9],[1509.9,1513,1507.5,1512.3],[1512.3,1515.5,1510,1514.3],
            [1514.3,1518,1513,1516.9],[1517,1518,1515.5,1517.2],[1517.2,1518.5,1516,1517.4],[1517.2,1518.5,1515,1516.2],[1516.7,1518,1515.5,1516.9],[1516.9,1520,1515.5,1519.2],[1519.2,1521,1516,1517.2],[1517.7,1519.5,1514,1515.7],[1515.7,1518.5,1512,1517.2],[1517.2,1518,1513.5,1515.7],
            [1515.7,1516.5,1509,1509.9],[1509.9,1516.5,1509,1515.7],[1515.2,1519,1513.5,1518.2],[1518.7,1519.5,1516,1518.2],[1518,1519,1516,1517.9],[1517.7,1519,1514,1515.7],[1516.8,1518,1514.5,1517.2],[1516.7,1521,1513,1520.6],[1520.6,1521,1510.5,1516.7],[1517,1518.5,1514,1517.2],
            [1517.2,1518.5,1515,1517],[1517,1518.5,1515,1517.2],[1517.2,1518.5,1515.5,1517.4],[1517.4,1518.5,1515,1517.2],[1517.2,1518.5,1516,1517],[1517,1518.5,1515.5,1517.2],[1517.2,1518.5,1515.5,1517],[1516.9,1519,1515.5,1518.5],[1518.7,1524.5,1517.5,1523.6],[1523.6,1526.5,1522,1525.7],
            [1526,1529.2,1524.5,1528.7],[1528.3,1529.2,1526,1527.5],[1527.8,1529,1526.5,1528],[1528,1529,1526.5,1528.3],[1528,1529.2,1524,1525],[1526.5,1529,1520,1521.6],[1520.6,1522,1505.5,1506.4],[1510.8,1515,1506,1508.4],[1508.4,1510,1505,1506.9],[1506.9,1508,1502,1505],
            [1503,1505,1497,1498.1],[1498.1,1503,1495,1495.7],[1495.7,1503,1495,1501.5],[1502,1505.5,1500.5,1504.5],[1503,1506,1501,1505.5],[1505.5,1506.5,1502.5,1503],[1505.4,1506.5,1502.5,1505.5],[1504,1511,1502,1510.4],[1509.9,1514,1508,1513.3],[1512.3,1516.5,1511,1514.8],
            [1515.3,1516.5,1511,1512.3],[1514.8,1520.5,1513.5,1519.9],[1519.7,1524,1518,1523.1],[1523.6,1524,1499,1500.6],[1500.6,1502,1481.5,1483.9],[1485.4,1490,1483.5,1489.3],[1489.3,1490.5,1484,1486.4],[1486.4,1490,1483.5,1489.3],[1490.3,1497,1489,1496.2],[1496.2,1497,1481.5,1491.7],
            [1490.8,1497.3,1489.5,1496.2],[1492.7,1494,1490,1491.2],[1491.8,1493.5,1490.5,1491.7],[1491.7,1493,1489.5,1491.2],[1491.7,1499.5,1491,1498.9],[1500.6,1512.5,1498,1511.6],[1511.6,1517,1510.5,1515.7],[1515.7,1517,1514.5,1515.9],[1515.7,1519,1514.5,1516.9],[1516.4,1518,1514.5,1516.2],
            [1517.2,1519,1511.5,1512.3],[1514.8,1522.5,1512,1522.1],[1522.1,1523,1510.5,1511.8],[1510.8,1512,1507,1509.4],[1509.4,1512,1508,1510.4],[1510.1,1511,1506,1507.9],[1508.4,1509.5,1499,1505.9],[1508.9,1518,1504,1516.9],[1516.7,1518.5,1514.5,1517.2],[1514.8,1516,1509.5,1510.8],
            [1510.8,1512,1507.5,1509.4],[1507.9,1512,1506,1510.8],[1510.8,1515.5,1508,1514.3],[1513.8,1518,1511,1517.2],[1518.7,1527,1517,1526.7],[1525.5,1527,1524,1525],[1525.5,1526.5,1523.5,1524.5],[1524.5,1529,1523.5,1528.5],[1527.5,1536.5,1526.5,1535.8],[1534.3,1542,1533,1538.7],
            [1538.3,1539.5,1536.5,1537.8],[1537.7,1539,1536.5,1537.8],[1537.3,1539.5,1536,1538.7],[1538.3,1544.5,1537.5,1541.2],[1540.7,1544.5,1539.5,1542],[1541.7,1543.5,1539,1540]
        ];
        var bbUpperUS = [[0,1459.4],[3.5,1465.8],[7.4,1471.2],[13.2,1473.1],[19,1471.2],[25,1470.2],[29.8,1469.7],[32.2,1468.3],[34.6,1475.6],[39.5,1481],[45.3,1486.4],[49.2,1486.4],[54,1491.3],[60,1492.7],[61.9,1493.7],[65.8,1496.2],[70.6,1499.6],[76.5,1501.5],[80.4,1502.5],[84.2,1505.9],[96.9,1505.9],[100.8,1510.4],[104.7,1511.8],[109.5,1511.8],[114.4,1513.6],[122.2,1512.8],[127,1511.8],[131.9,1515.7],[139.7,1517.5],[145.5,1519.4],[149.6,1520.6],[167,1521.1],[168,1523.6],[174,1529.4],[178.8,1533.4],[182.2,1536.5],[186.6,1535.3],[190.5,1530.4],[193.4,1524.5],[202.1,1524],[209.9,1526],[217.7,1527.5],[221.6,1524.5],[224.5,1523.6],[229.4,1537.3],[232.3,1545.1],[235,1550]];
        var bbMidUS = [[0,1454.5],[3,1455],[7.4,1457.5],[12.3,1460.9],[17.1,1463.8],[23,1464.3],[32.2,1464.8],[36.6,1467.8],[42.4,1471.7],[48.2,1477.1],[52.1,1479.5],[59.9,1483.4],[64.8,1485.9],[70.6,1489.8],[74.5,1491.3],[79.4,1493.7],[85.2,1498.1],[96.9,1497.6],[99.8,1500.1],[103.7,1500.1],[108.1,1498.1],[112,1502.5],[122.2,1502.5],[128,1506.9],[132.9,1508.9],[139.7,1511.8],[143.8,1512.8],[145.7,1515.2],[149.6,1515.7],[155.4,1515.7],[167.1,1516.7],[169,1520.6],[174.9,1520.6],[179.8,1517.7],[186.6,1512.8],[191.4,1510.8],[194.4,1505.9],[198.2,1502.5],[205,1500.6],[211.9,1501.5],[216.7,1505.9],[224.5,1514.8],[230.4,1517.7],[235,1525.5]];
        var bbLowerUS = [[0,1449.4],[3.5,1447.2],[7.4,1446],[12.3,1450.1],[16.1,1455],[22,1459],[29.8,1459.9],[33.7,1456.5],[37.5,1456.2],[43.4,1459.4],[47.3,1463.8],[51.2,1470.7],[56,1472.2],[59.9,1475.6],[63.8,1477.1],[68.7,1481],[76.5,1483.4],[81.3,1487.3],[85.2,1490.3],[90,1489.5],[103.7,1489.5],[107.1,1487.5],[115.4,1491.3],[122.2,1492.2],[125.1,1498.1],[128,1500.9],[133.9,1500.3],[140.7,1503.5],[143.8,1506.4],[146.7,1509.4],[151.6,1509.4],[158.4,1512.8],[168.1,1512.3],[174.9,1510.8],[177.8,1506.9],[181.7,1495.2],[186.6,1490.3],[191.4,1491.3],[194.4,1487.3],[198.2,1482],[203,1478],[210.9,1476.8],[213.3,1478],[218.7,1488.3],[223.5,1504],[227.4,1502],[231.2,1497.6],[235,1501.3]];
        var maUS = [[0,1456.5],[3.5,1460.9],[7.4,1462.9],[14.2,1465.8],[19,1463.8],[24.9,1464.8],[31.7,1464.3],[35.6,1471.7],[42.4,1478],[48.2,1478],[52.1,1483.4],[58,1485.4],[63.8,1486.9],[66.7,1490.3],[71.6,1494.2],[79.4,1494.2],[83.3,1500.6],[87.2,1500.6],[91,1496.2],[96.9,1498.1],[99.8,1503],[103.2,1503.5],[107.6,1497.1],[111.5,1505],[115.4,1505],[122.2,1504],[127,1506.9],[130,1510.8],[139.7,1512.3],[143.8,1515.7],[149.6,1517.2],[163.2,1517.2],[168.1,1521.6],[173,1528],[174.9,1525.5],[176.8,1518.7],[180.7,1506.9],[185.6,1505.5],[188.5,1508.9],[192.4,1515.7],[194.4,1503],[197.3,1498.1],[203.1,1494.2],[206,1505],[209.9,1512.3],[215.8,1509.9],[220.6,1511.3],[223.5,1514.8],[228.4,1524.5],[231.3,1532.4],[235,1536.3]];
        var stochUS = [[1,73],[5.4,60],[9.8,38],[13.7,69],[17,33],[21,42],[26.8,78],[31.7,78],[35.6,73],[39,47],[41.4,78],[46.3,73],[49.2,47],[52.6,82],[56,69],[59.9,38],[61.4,69],[64.3,38],[69.2,87],[72.6,69],[75.5,47],[77.9,60],[79.9,47],[82.8,91],[85.7,78],[87.6,20],[90,2],[93,51],[95.9,60],[99.3,85],[101.8,69],[104.7,13],[107,15],[110,87],[112.9,82],[116.3,42],[120.2,56],[128,87],[131.9,78],[135.3,38],[138.7,42],[141.1,82],[144,73],[146.7,51],[150.6,29],[154,80],[160.3,51],[165.2,71],[168,91],[173,91],[176.4,20],[179.3,4],[182.2,15],[185.1,78],[192,91],[195.3,11],[199.7,60],[206,87],[210.9,82],[214.8,15],[219.2,73],[221.6,47],[224.5,91],[229.4,89],[235,64]];
        var signalUS = [[0,60],[4,70],[8,50],[12,50],[16,52],[20,36],[25,64],[30,78],[36,76],[40,60],[44,70],[48,66],[51,60],[55,72],[59,56],[63,50],[67,60],[71,80],[75,62],[79,52],[83,70],[87,60],[90,16],[94,28],[98,68],[102,76],[106,32],[110,50],[114,84],[118,58],[122,60],[128,80],[133,76],[137,50],[141,60],[146,76],[150,42],[154,52],[158,68],[163,62],[168,84],[173,90],[178,30],[182,8],[187,58],[192,84],[197,28],[201,38],[207,78],[212,84],[217,36],[221,64],[225,66],[230,88],[235,72]];
        var redLevelsUS = [1557.7, 1554.5, 1490.2];
        var darkLevelsUS = [1524.1];
        var midLevelsUS = [1529.2, 1508.9];
        var dashLevelsUS = [1438.3];
        var bidUS = 1540.0;
        var cyanUS = [[60,64,1497.1,1493.7],[80,88,1507.1,1501.2],[97,99,1509.4,1504],[175,178,1512,1508.4],[192,195,1493.2,1488.8],[209,211,1521.1,1518],[214,219,1501.2,1498.3],[233,238,1558.3,1551.2],[234,237,1536.5,1524.4]];
        var limeUS = [[73,251,1492,1490]];
        var handlesUS = [[233,238,1558.3,1551.2]];
        var fibOneLabelsUS = ["0.0", "23.6", "38.2", "50.0"];
        var fibOnePricesUS = [1529.2, 1484.4, 1456.8, 1434.5];
        var fibOneSpanUS = [0, 180.7];
        var fibTwoLabelsUS = ["161.8", "100.0", "76.8", "61.8", "50.0", "38.2", "23.6", "0.0"];
        var fibTwoPricesUS = [1550, 1524, 1513.8, 1507.4, 1502.3, 1497.3, 1491, 1481.3];
        var fibTwoSpanUS = [193, 203];
        var thickRedUS = [[0,1473.6,275.6,1567.6]];
        var thinRedUS = [[62,1497.1,266.5,1567.6],[176,1529,284.4,1499],[99.3,1509.9,127,1493.7],[146.2,1521.1,158,1507.4]];
        var orangeUS = [[210,1512.3,217,1496]];
        var thinGreenUS = [[0,1468.5,284.4,1566.2],[0,1449.7,284.4,1545.4],[0,1543.6,27.8,1567.6],[200.7,1484.9,242,1524.5]];
        var thickGreenUS = [[149.6,1433.7,284.4,1469]];
        var magentaLineUS = [[191.5,1523.8,241.5,1523.8]];
        var dashRedUS = [[193,1523.6,194,1484]];
        var patternLabelsUS = ["Nacken", "S", "K", "S"];
        var patternBarsUS = [203, 181, 198, 215];
        var patternPricesUS = [1523.6, 1488.3, 1475.3, 1493.7];

        var credit = "MetaTrader FIX, \u00a9 2001-2012, MetaQuotes Software Corp.";

        (function () {
            var svg = d3.select('#canvas').append('svg:svg').attr('width', 2400).attr('height', 1064);
            var clipCount = 0;

            var createPanel = function (p) {
                var g = svg.append('g');
                var x = d3.scaleLinear().domain([0, p.maxBar]).range([p.left, p.right]);
                var y = d3.scaleLinear().domain(p.domain).range([p.bottom, p.top]);
                var id = 'clip' + (clipCount++);
                svg.append('clipPath').attr('id', id).append('rect')
                    .attr('x', p.left).attr('y', p.top).attr('width', p.right - p.left).attr('height', p.bottom - p.top);
                var body = g.append('g').attr('clip-path', 'url(#' + id + ')');
                return { g: g, x: x, y: y, body: body, p: p };
            }

            var drawRects = function (c, rows, color) {
                c.body.selectAll(null).data(rows).enter().append('rect')
                    .attr('x', function (d) { return c.x(d[0]); })
                    .attr('width', function (d) { return c.x(d[1]) - c.x(d[0]); })
                    .attr('y', function (d) { return c.y(d[2]); })
                    .attr('height', function (d) { return c.y(d[3]) - c.y(d[2]); })
                    .attr('fill', color);
            }

            var drawGrid = function (c, ticks, tickBars) {
                c.body.selectAll(null).data(ticks).enter().append('line')
                    .attr('x1', c.p.left).attr('x2', c.p.right)
                    .attr('y1', function (d) { return Math.round(c.y(d)) + .5; })
                    .attr('y2', function (d) { return Math.round(c.y(d)) + .5; })
                    .attr('stroke', '#c0c0c0').attr('stroke-dasharray', '3 3');
                c.body.selectAll(null).data(tickBars).enter().append('line')
                    .attr('y1', c.p.top).attr('y2', c.p.bottom)
                    .attr('x1', function (d) { return Math.round(c.x(d)) + .5; })
                    .attr('x2', function (d) { return Math.round(c.x(d)) + .5; })
                    .attr('stroke', '#c0c0c0').attr('stroke-dasharray', '3 3');
            }

            var drawCandles = function (c, rows, halfWidth, upColor, downColor) {
                var g = c.body.append('g').attr('shape-rendering', 'crispEdges');
                rows.forEach(function (d, i) {
                    var px = Math.round(c.x(i));
                    g.append('line').attr('x1', px + .5).attr('x2', px + .5)
                        .attr('y1', c.y(d[1])).attr('y2', c.y(d[2])).attr('stroke', '#000');
                    var top = Math.round(c.y(Math.max(d[0], d[3])));
                    var bot = Math.round(c.y(Math.min(d[0], d[3])));
                    g.append('rect').attr('x', px - halfWidth + .5).attr('width', halfWidth * 2)
                        .attr('y', top + .5).attr('height', Math.max(bot - top, 1))
                        .attr('fill', d[3] >= d[0] ? upColor : downColor).attr('stroke', '#000');
                });
            }

            var drawPath = function (c, rows, color, width, dash) {
                var line = d3.line().x(function (d) { return c.x(d[0]); }).y(function (d) { return c.y(d[1]); });
                c.body.append('path').datum(rows).attr('d', line)
                    .attr('fill', 'none').attr('stroke', color).attr('stroke-width', width)
                    .attr('stroke-dasharray', dash || null);
            }

            var drawSegments = function (c, rows, color, width, dash) {
                rows.forEach(function (d) {
                    drawPath(c, [[d[0], d[1]], [d[2], d[3]]], color, width, dash);
                });
            }

            var drawLevels = function (c, levels, color, dash, width) {
                c.body.selectAll(null).data(levels).enter().append('line')
                    .attr('x1', c.p.left).attr('x2', c.p.right)
                    .attr('y1', function (d) { return Math.round(c.y(d)) + .5; })
                    .attr('y2', function (d) { return Math.round(c.y(d)) + .5; })
                    .attr('stroke', color).attr('stroke-width', width || 1)
                    .attr('stroke-dasharray', dash || null);
            }

            var drawTags = function (c, levels, color) {
                var tags = c.g.append('g').selectAll(null).data(levels).enter().append('g')
                    .attr('transform', function (d) { return 'translate(' + (c.p.right + 1) + ',' + c.y(d) + ')'; });
                tags.append('rect').attr('y', -7).attr('width', 37).attr('height', 14).attr('fill', color);
                tags.append('text').attr('x', 4).attr('y', 4).style('fill', '#fff')
                    .text(function (d) { return d3.format('.1f')(d); });
            }

            var drawFib = function (c, labels, prices, span, dash) {
                drawLevels2(c, prices, span, dash);
                c.body.selectAll(null).data(labels).enter().append('text')
                    .attr('x', c.x(span[1]) + 2).attr('text-anchor', 'end')
                    .attr('y', function (d, i) { return c.y(prices[i]) - 2; })
                    .style('fill', '#2222ee').text(function (d) { return d; });
            }

            var drawLevels2 = function (c, prices, span, dash) {
                c.body.selectAll(null).data(prices).enter().append('line')
                    .attr('x1', c.x(span[0])).attr('x2', c.x(span[1]))
                    .attr('y1', function (d) { return Math.round(c.y(d)) + .5; })
                    .attr('y2', function (d) { return Math.round(c.y(d)) + .5; })
                    .attr('stroke', '#0000e0').attr('stroke-dasharray', dash);
            }

            var drawHandles = function (c, rows) {
                rows.forEach(function (d) {
                    [[d[0], d[2]], [d[1], d[2]], [d[0], d[3]], [d[1], d[3]]].forEach(function (q) {
                        c.g.append('rect').attr('x', c.x(q[0]) - 2).attr('y', c.y(q[1]) - 2)
                            .attr('width', 4).attr('height', 4).attr('fill', '#fff').attr('stroke', '#00e0e0');
                    });
                });
            }

            var drawPriceAxis = function (c, ticks) {
                var axis = d3.axisRight(c.y).tickValues(ticks).tickSize(3).tickFormat(d3.format('.1f'));
                var a = c.g.append('g').attr('transform', 'translate(' + c.p.right + ',0)').call(axis);
                a.select('.domain').remove();
                a.selectAll('.tick text').attr('x', 5);
            }

            var drawFrame = function (c) {
                c.g.append('rect').attr('x', c.p.left - .5).attr('y', c.p.top - .5)
                    .attr('width', c.p.right - c.p.left + 1).attr('height', c.p.bottom - c.p.top + 1)
                    .attr('fill', 'none').attr('stroke', '#000').attr('stroke-width', 1.5);
            }

            var drawOscillator = function (p, main, signal, tickBars, labels, title) {
                var c = createPanel(p);
                drawGrid(c, p.gridValues, tickBars);
                if (signal) drawPath(c, signal, '#ff0000', 1, '2 2');
                drawPath(c, main, '#20b2aa', 1);
                var axis = d3.axisRight(c.y).tickValues(labels).tickSize(3);
                if (p.format) axis.tickFormat(p.format);
                var a = c.g.append('g').attr('transform', 'translate(' + p.right + ',0)').call(axis);
                a.select('.domain').remove();
                a.selectAll('.tick text').attr('x', 3)
                    .attr('dy', function (d) {
                        if (d === p.domain[1]) return '0.95em';
                        if (d === p.domain[0]) return '-0.2em';
                        return '0.32em';
                    });
                c.g.append('text').attr('x', p.left + 5).attr('y', p.top + 15).text(title);
                drawFrame(c);
                return c;
            }

            var drawTime = function (c, tickBars, labels, yAxis, labelY) {
                var axis = d3.axisBottom(c.x).tickValues(tickBars).tickSize(4)
                    .tickFormat(function (d, i) { return labels[i]; });
                var a = c.g.append('g').attr('transform', 'translate(0,' + yAxis + ')').call(axis);
                a.select('.domain').remove();
                a.selectAll('.tick text').attr('text-anchor', 'start').attr('x', 0).attr('y', labelY);
            }

            var drawCredit = function (c, x, y) {
                c.g.append('text').classed('wide', true).attr('x', x).attr('y', y)
                    .style('font-family', '"Noto Sans", sans-serif').style('font-size', '12px').text(credit);
            }

            var stepBars = function (count, step) {
                return d3.range(count).map(function (i) { return i * step; });
            }

            var drawStyledBollinger = function (c, upper, mid, lower, ma) {
                drawPath(c, ma, '#ff0000', 1);
                drawPath(c, upper, '#707070', 2.4);
                drawPath(c, mid, '#707070', 2.4);
                drawPath(c, lower, '#707070', 2.4);
            }

            // MT4 prints a narrow Tahoma, so squeeze the small labels sideways
            var squeezeText = function () {
                svg.selectAll('text').filter(function () { return !this.classList.contains('wide'); })
                    .each(function () {
                        var w = this.getComputedTextLength();
                        d3.select(this).attr('textLength', w * .77).attr('lengthAdjust', 'spacingAndGlyphs');
                    });
            }

            // ---- panel DE.30 H1 ----
            var drawH1 = function () {
                var p = { left: 3, right: 1141, top: 3, bottom: 443, maxBar: 284.5, domain: [7550, 7998.6] };
                var c = createPanel(p);
                var bars = stepBars(15, 16);
                drawRects(c, limeH1, '#b6ff66');
                drawRects(c, goldH1, '#ffd000');
                drawRects(c, orangeH1, '#ff9010');
                drawRects(c, pinkH1, '#ff8a80');
                drawRects(c, cyanH1, '#00ffff');
                drawRects(c, tealH1, '#0f8f94');
                drawRects(c, springH1, '#4cff70');
                drawGrid(c, ticksH1, bars);
                drawLevels(c, [bidH1], '#c0c0c0');
                drawCandles(c, candlesH1, 1, '#32cd32', '#ff4500');
                drawStyledBollinger(c, bbUpperH1, bbMidH1, bbLowerH1, maH1);
                drawLevels(c, redLevelsH1, '#ff0000', '3 2');
                drawLevels(c, darkLevelsH1.concat(midLevelsH1), '#006400', '3 2');
                drawFib(c, fibLabelsH1, fibPricesH1, fibSpanH1, '16 7');
                drawSegments(c, thinGreenH1, '#006400', 1);
                drawSegments(c, thickGreenH1, '#006400', 5.5);
                drawSegments(c, greenH1, '#0a7a0a', 2.5);
                drawSegments(c, yellowH1, '#ffd000', 2.5);
                drawSegments(c, orangeRedH1, '#ff4500', 3.5);
                drawSegments(c, redH1, '#ff0000', 2.5);
                drawSegments(c, thinRedH1, '#ff0000', 1);
                drawSegments(c, dashRedH1, '#ff0000', 1, '3 2');
                drawSegments(c, purpleH1, '#ff00ff', 2.5);
                drawLevels(c, [magentaH1], '#ff00ff', null, 2.5);
                c.body.append('text').attr('x', p.left + 4).attr('y', p.top + 11).text(titleH1);
                drawFrame(c);
                drawPriceAxis(c, ticksH1);
                drawHandles(c, handlesH1);
                drawTags(c, redLevelsH1, '#ff0000');
                drawTags(c, darkLevelsH1, '#0c5a0c');
                drawTags(c, midLevelsH1, '#2e8b2e');
                drawTags(c, [bidH1], '#000');
                drawTags(c, [magentaH1], '#ff00ff');
                var s = drawOscillator({ left: 3, right: 1141, top: 446, bottom: 500, maxBar: 284.5, domain: [0, 100], gridValues: [80, 20] },
                    stochH1, signalH1, bars, [100, 80, 20, 0], stochTitleH1);
                drawCredit(s, 5, 497);
                drawTime(s, bars, timeLabelsH1, 500, 6);
            }

            // ---- panel DE.30 H4 ----
            var drawH4 = function () {
                var p = { left: 7, right: 1144.6, top: 542, bottom: 972, maxBar: 142.2, domain: [7524.4, 7999.8] };
                var c = createPanel(p);
                var bars = stepBars(15, 8);
                drawRects(c, brightH4, '#9cff30');
                drawRects(c, limeH4, '#b6ff66');
                drawRects(c, paleH4, '#d0ecf0');
                drawRects(c, cyanH4, '#00ffff');
                drawGrid(c, ticksH4, bars);
                drawLevels(c, [bidH4], '#c0c0c0');
                drawCandles(c, candlesH4, 2, '#fff', '#000');
                drawStyledBollinger(c, bbUpperH4, bbMidH4, bbLowerH4, maH4);
                drawLevels(c, redLevelsH4, '#ff0000', '3 2');
                drawLevels(c, darkLevelsH4, '#006400', '3 2');
                drawLevels(c, midLevelsH4, '#0a7a0a', '14 4 3 4');
                drawLevels(c, [blackLevelH4], '#000', '14 4 3 4');
                drawSegments(c, thinGreenH4, '#0a7a0a', 1);
                drawSegments(c, dashGreenH4, '#0a7a0a', 1, '16 8');
                drawSegments(c, thickGreenH4, '#006400', 4.5);
                drawSegments(c, redH4, '#ff0000', 2.5);
                drawSegments(c, thinRedH4, '#ff0000', 1);
                drawLevels(c, [magentaH4], '#ff00ff', null, 3);
                c.body.selectAll(null).data(markersH4).enter().append('rect')
                    .attr('x', function (d) { return c.x(d[0]) - 2.5; }).attr('y', function (d) { return c.y(d[1]) - 2.5; })
                    .attr('width', 5).attr('height', 5).attr('fill', '#fff').attr('stroke', '#ff0000').attr('stroke-width', 1.5);
                c.body.append('text').attr('x', p.left + 4).attr('y', p.top + 12).text(titleH4);
                drawFrame(c);
                drawPriceAxis(c, ticksH4);
                drawTags(c, redLevelsH4, '#ff0000');
                drawTags(c, darkLevelsH4, '#0c5a0c');
                drawTags(c, midLevelsH4.concat([magentaH4]), '#2e8b2e');
                drawTags(c, [bidH4, blackLevelH4], '#000');
                drawOscillator({ left: 7, right: 1144.6, top: 975, bottom: 1010, maxBar: 142.2, domain: [0, 100], gridValues: [80, 20] },
                    stochH4, signalH4, bars, [100, 80, 20, 0], stochTitleH4);
                var cci = drawOscillator({ left: 7, right: 1144.6, top: 1012, bottom: 1040, maxBar: 142.2, domain: [-363.011, 268.853], gridValues: [100, 0, -100], format: function (d) { return Math.abs(d) > 200 ? d3.format('.3f')(d) : d; } },
                    cciH4, null, bars, [268.853, 100, 0, -100, -363.011], cciTitleH4);
                drawCredit(cci, 9, 1036);
                drawTime(cci, bars, timeLabelsH4, 1040, 5);
            }

            // ---- panel US.500 H4 ----
            var drawUS = function () {
                var p = { left: 1215, right: 2352.6, top: 158, bottom: 614, maxBar: 284.4, domain: [1433.6, 1568.2] };
                var c = createPanel(p);
                var bars = stepBars(15, 16);
                drawRects(c, limeUS, '#b6ff66');
                drawRects(c, cyanUS, '#00ffff');
                drawGrid(c, ticksUS, bars);
                drawLevels(c, [bidUS], '#c0c0c0');
                drawCandles(c, candlesUS, 1, '#32cd32', '#ff4500');
                drawStyledBollinger(c, bbUpperUS, bbMidUS, bbLowerUS, maUS);
                drawLevels(c, redLevelsUS, '#ff0000', '3 2');
                drawLevels(c, darkLevelsUS.concat(midLevelsUS), '#006400', '3 2');
                drawLevels(c, dashLevelsUS, '#0a7a0a', '16 7');
                drawFib(c, fibOneLabelsUS, fibOnePricesUS, fibOneSpanUS, '16 7');
                drawFib(c, fibTwoLabelsUS, fibTwoPricesUS, fibTwoSpanUS, '16 7');
                drawSegments(c, thinGreenUS, '#0a7a0a', 1);
                drawSegments(c, thickGreenUS, '#006400', 4);
                drawSegments(c, thinRedUS, '#ff0000', 1);
                drawSegments(c, orangeUS, '#ff4500', 1);
                drawSegments(c, thickRedUS, '#ff0000', 3.5);
                drawSegments(c, dashRedUS, '#ff0000', 2, '4 2');
                drawSegments(c, magentaLineUS, '#ff00ff', 1);
                c.body.selectAll(null).data(patternLabelsUS).enter().append('text').classed('wide', true)
                    .attr('x', function (d, i) { return c.x(patternBarsUS[i]); })
                    .attr('y', function (d, i) { return c.y(patternPricesUS[i]); })
                    .style('fill', '#ff33ff').style('font-family', '"Noto Sans", sans-serif').style('font-size', '17px').text(function (d) { return d; });
                c.body.append('text').attr('x', p.left + 4).attr('y', p.top + 12).text(titleUS);
                drawFrame(c);
                drawPriceAxis(c, ticksUS);
                drawHandles(c, handlesUS);
                drawTags(c, redLevelsUS, '#ff0000');
                drawTags(c, darkLevelsUS, '#0c5a0c');
                drawTags(c, midLevelsUS.concat(dashLevelsUS), '#2e8b2e');
                drawTags(c, [bidUS], '#000');
                var s = drawOscillator({ left: 1215, right: 2352.6, top: 616, bottom: 654, maxBar: 284.4, domain: [0, 100], gridValues: [80, 20] },
                    stochUS, signalUS, bars, [100, 80, 20, 0], stochTitleUS);
                drawCredit(s, 1217, 650);
                drawTime(s, bars, timeLabelsUS, 654, 7);
            }

            drawH1();
            drawH4();
            drawUS();
            squeezeText();
        })();
    </script>
</body>

</html>
